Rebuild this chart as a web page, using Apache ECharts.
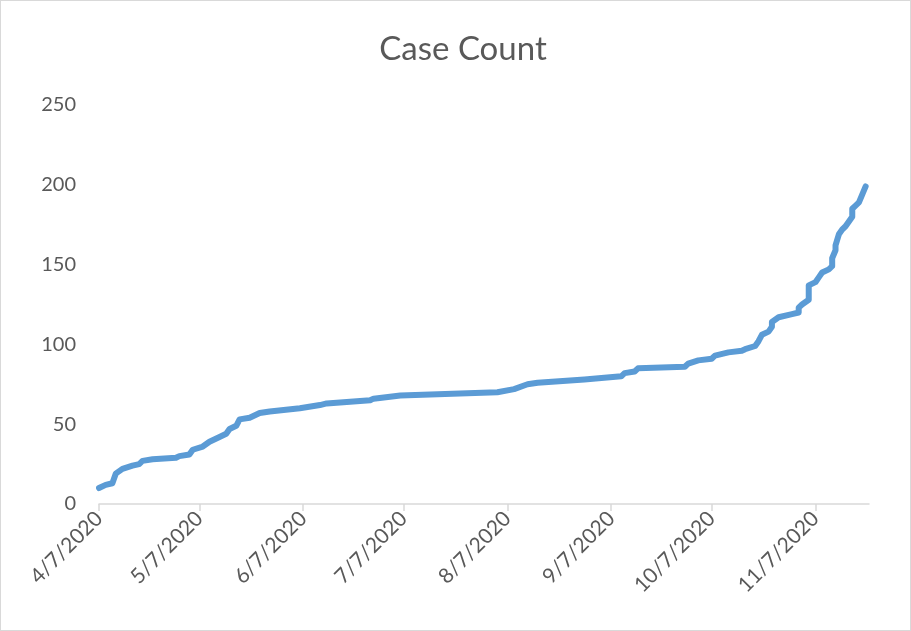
<!DOCTYPE html>
<html>
<head>
<meta charset="utf-8">
<script src="https://cdn.jsdelivr.net/npm/echarts@6/dist/echarts.min.js"></script>
<style>
  html, body { margin: 0; padding: 0; background: #fff; }
  #chart { width: 909px; height: 629px; border: 1px solid #d9d9d9; }
</style>
</head>
<body>
<div id="chart"></div>
<script>
// breakpoints of the cumulative curve
const dates = [
    '2020-04-07', '2020-04-09', '2020-04-11', '2020-04-12', '2020-04-14', '2020-04-17',
    '2020-04-19', '2020-04-20', '2020-04-23', '2020-04-30', '2020-05-01', '2020-05-04',
    '2020-05-05', '2020-05-08', '2020-05-10', '2020-05-13', '2020-05-15', '2020-05-16',
    '2020-05-18', '2020-05-19', '2020-05-22', '2020-05-25', '2020-05-28', '2020-06-06',
    '2020-06-12', '2020-06-14', '2020-06-27', '2020-06-28', '2020-07-06', '2020-08-04',
    '2020-08-09', '2020-08-13', '2020-08-16', '2020-08-30', '2020-09-10', '2020-09-11',
    '2020-09-14', '2020-09-15', '2020-09-29', '2020-09-30', '2020-10-03', '2020-10-07',
    '2020-10-08', '2020-10-12', '2020-10-16', '2020-10-17', '2020-10-20', '2020-10-21',
    '2020-10-22', '2020-10-24', '2020-10-25', '2020-10-25', '2020-10-27', '2020-10-31',
    '2020-11-02', '2020-11-02', '2020-11-03', '2020-11-05', '2020-11-05', '2020-11-07',
    '2020-11-08', '2020-11-09', '2020-11-11', '2020-11-12', '2020-11-12', '2020-11-13',
    '2020-11-13', '2020-11-14', '2020-11-15', '2020-11-16', '2020-11-17', '2020-11-18',
    '2020-11-18', '2020-11-19', '2020-11-20', '2020-11-21', '2020-11-22'
];
const counts = [
    10, 12, 13, 19, 22, 24,
    25, 27, 28, 29, 30, 31,
    34, 36, 39, 42, 44, 47,
    49, 53, 54, 57, 58, 60,
    62, 63, 65, 66, 68, 70,
    72, 75, 76, 78, 80, 82,
    83, 85, 86, 88, 90, 91,
    93, 95, 96, 97, 99, 102,
    106, 108, 111, 114, 117, 119,
    120, 123, 125, 128, 137, 139,
    142, 145, 147, 149, 154, 159,
    162, 169, 172, 174, 177, 180,
    185, 187, 189, 194, 199
];
const tickDates = [
    '2020-04-07', '2020-05-07', '2020-06-07', '2020-07-07',
    '2020-08-07', '2020-09-07', '2020-10-07', '2020-11-07'
];
const firstDate = '2020-04-07';
const lastDate = '2020-11-23';

const textColor = '#595959';
const lineColor = '#5b9bd5';
const axisColor = '#d9d9d9';
const font = 'Lato, "Open Sans", sans-serif';

function toTime(s) {
    return new Date(s + 'T00:00:00').getTime();
}

const tickTimes = tickDates.map(toTime);
const seriesData = dates.map(function (d, i) {
    return [toTime(d), counts[i]];
});

const option = {
    animation: false,
    title: {
        text: 'Case Count',
        left: 457,
        textAlign: 'center',
        top: 27,
        textStyle: {
            color: textColor,
            fontFamily: font,
            fontWeight: 'normal',
            fontSize: 33
        }
    },
    grid: {
        left: 98,
        right: 41,
        top: 104,
        bottom: 126
    },
    xAxis: {
        // plain value axis holding timestamps, so the monthly ticks can sit on the 7th
        type: 'value',
        min: toTime(firstDate),
        max: toTime(lastDate),
        axisLine: { lineStyle: { color: axisColor, width: 1.5 } },
        axisTick: {
            customValues: tickTimes,
            length: 7,
            lineStyle: { color: axisColor, width: 1.5 }
        },
        axisLabel: {
            customValues: tickTimes,
            rotate: 45,
            margin: 11,
            color: textColor,
            fontFamily: font,
            fontSize: 21,
            formatter: function (v) {
                const d = new Date(v);
                return (d.getMonth() + 1) + '/' + d.getDate() + '/' + d.getFullYear();
            }
        },
        splitLine: { show: false }
    },
    yAxis: {
        type: 'value',
        min: 0,
        max: 250,
        interval: 50,
        axisLine: { show: false },
        axisTick: { show: false },
        splitLine: { show: false },
        axisLabel: {
            margin: 23,
            color: textColor,
            fontFamily: font,
            fontSize: 20
        }
    },
    series: [{
        type: 'line',
        data: seriesData,
        showSymbol: false,
        lineStyle: {
            color: lineColor,
            width: 6,
            cap: 'round',
            join: 'round'
        }
    }]
};

const chart = echarts.init(document.getElementById('chart'));
chart.setOption(option);
</script>
</body>
</html>
